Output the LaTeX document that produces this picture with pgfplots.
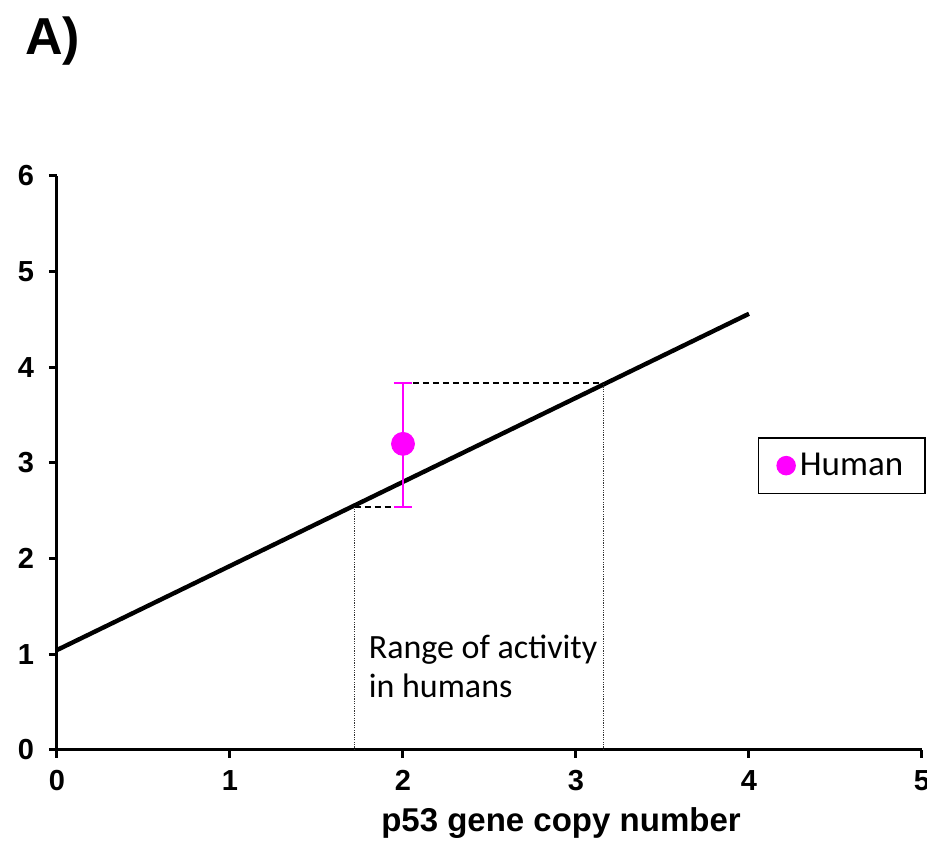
\documentclass[border=0pt]{standalone}
\usepackage{pgfplots}
\pgfplotsset{compat=1.18}
\usepackage{fontspec}
\setmainfont{Liberation Sans}
\newfontfamily\carlito{Carlito}
\definecolor{human}{RGB}{255,0,255}
\begin{document}
\begin{tikzpicture}
\path[use as bounding box] (0,0) rectangle (463.5pt,425pt);
\node[anchor=base west, inner sep=0pt, font=\fontsize{26}{30}\selectfont\bfseries] at (12.5pt,397.5pt) {A)};
\begin{axis}[
  scale only axis, width=432.5pt, height=287pt,
  at={(28.5pt,50pt)}, anchor=south west,
  xmin=0, xmax=5, ymin=0, ymax=6,
  axis lines=left, axis line style={-, line width=1.5pt},
  xtick={0,...,5}, ytick={0,...,6},
  tick align=outside, major tick length=4pt,
  tick style={line width=1.5pt, black},
  ticklabel style={font=\fontsize{14.5}{16}\selectfont\bfseries},
  xticklabel style={yshift=-2.5pt},
  yticklabel style={xshift=-4pt},
  /pgf/number format/assume math mode=true,
  clip=false,
  legend style={at={(axis cs:4.05,3.27)}, anchor=north west, draw=black,
    line width=0.75pt, font=\carlito\fontsize{17.5}{20}\selectfont,
    inner xsep=9pt, inner ysep=5.5pt},
]
\addplot[black, line width=2.2pt, forget plot] coordinates {(0,1.045) (4,4.56)};
\addplot[black, line width=1pt, dash pattern=on 3.2pt off 1.8pt, forget plot] coordinates {(1.72,2.54) (2,2.54)};
\addplot[black, line width=1pt, dash pattern=on 3.2pt off 1.8pt, forget plot] coordinates {(2,3.836) (3.16,3.836)};
\addplot[black!80, line width=0.7pt, dash pattern=on 0.6pt off 0.6pt, forget plot] coordinates {(1.72,0) (1.72,2.54)};
\addplot[black!80, line width=0.7pt, dash pattern=on 0.6pt off 0.6pt, forget plot] coordinates {(3.16,0) (3.16,3.836)};
\addplot[only marks, mark=*, color=human, mark size=5.75pt,
  legend image code/.code={\fill[human] (0.25cm,0cm) circle (4.5pt);},
  error bars/.cd, y dir=both, y explicit,
  error bar style={line width=1pt, human},
  error mark options={rotate=90, mark size=4.5pt, line width=1pt, human}]
  coordinates {(2,3.2) += (0,0.636) -= (0,0.66)};
\addlegendentry{Human}
\node[anchor=north west, inner sep=0pt, align=left, font=\carlito\fontsize{17}{19.5}\selectfont] at (axis cs:1.80,1.21) {Range of activity\\in humans};
\end{axis}
\node[anchor=base, inner sep=0pt, font=\fontsize{16.5}{18}\selectfont\bfseries] at (280.5pt,9pt) {p53 gene copy number};
\end{tikzpicture}
\end{document}
